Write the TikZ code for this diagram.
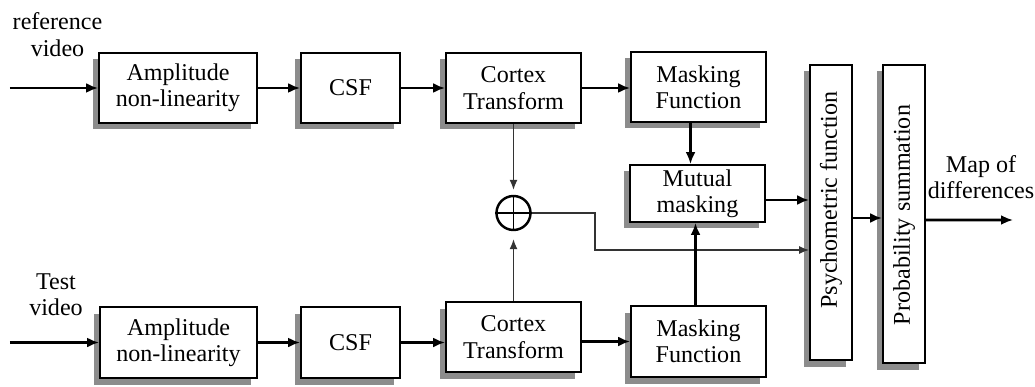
\documentclass[tikz,border=0pt]{standalone}
\usepackage{fontspec}
\setmainfont{Liberation Serif}
\usetikzlibrary{shadows,arrows.meta}
\begin{document}
\begin{tikzpicture}[
	box/.style={draw, line width=1.1pt, fill=white, align=center, inner sep=0pt,
		drop shadow={shadow xshift=-0.13cm, shadow yshift=-0.13cm, fill=black!45, opacity=1}},
	flow/.style={-{Latex[length=0.24cm,width=0.2cm]}, line width=1.5pt},
	link/.style={-{Latex[length=0.2cm,width=0.16cm]}, line width=0.7pt, black!80},
	font=\fontsize{13.7}{15}\selectfont]
	  \useasboundingbox (0,0) rectangle (20.7,-7.74);

	  \node[align=center] (reflabel) at (1.15,-0.69) {reference\\video};
	  \node[align=center] (testlabel) at (1.12,-5.9) {Test\\video};
	  \node[align=center] (maplabel) at (19.62,-3.54) {Map of\\differences};

	  \coordinate (inA) at (0.2,-1.76);
	  \coordinate (inB) at (0.2,-6.85);
	  \coordinate (out) at (20.26,-4.40);
	  \coordinate (turn) at (11.9,-5.0);

	  % reference branch
	  \node[box, minimum width=3.16cm, minimum height=1.4cm] (amp1) at (3.56,-1.76) {Amplitude\\non-linearity};
	  \node[box, minimum width=1.98cm, minimum height=1.4cm] (csf1) at (7.01,-1.76) {CSF};
	  \node[box, minimum width=2.7cm, minimum height=1.4cm] (cortex1) at (10.27,-1.76) {Cortex\\Transform};
	  \node[box, minimum width=2.7cm, minimum height=1.4cm] (mask1) at (13.97,-1.74) {Masking\\Function};

	  % test branch
	  \node[box, minimum width=3.14cm, minimum height=1.42cm] (amp2) at (3.57,-6.85) {Amplitude\\non-linearity};
	  \node[box, minimum width=1.98cm, minimum height=1.42cm] (csf2) at (7.01,-6.85) {CSF};
	  \node[box, minimum width=2.7cm, minimum height=1.4cm] (cortex2) at (10.27,-6.74) {Cortex\\Transform};
	  \node[box, minimum width=2.7cm, minimum height=1.42cm] (mask2) at (13.97,-6.83) {Masking\\Function};

	  \node[box, minimum width=2.7cm, minimum height=1.14cm] (mutual) at (13.95,-3.87) {Mutual\\masking};
	  \node[circle, draw, line width=1.4pt, minimum size=0.68cm, inner sep=0pt] (plus) at (10.27,-4.26) {};
	  \draw[line width=1pt] (plus.north) -- (plus.south) (plus.west) -- (plus.east);

	  \node[box, minimum width=0.84cm, minimum height=5.9cm] (psy) at (16.62,-4.25) {};
	  \node[rotate=90] (psytext) at (16.62,-4.0) {Psychometric function};
	  \node[box, minimum width=0.84cm, minimum height=5.96cm] (prob) at (18.08,-4.28) {};
	  \node[rotate=90] (probtext) at (18.08,-4.3) {Probability summation};

	  \draw[flow] (inA) -- (amp1);
	  \draw[flow] (amp1) -- (csf1);
	  \draw[flow] (csf1) -- (cortex1);
	  \draw[flow] (cortex1) -- (mask1.west |- cortex1);

	  \draw[flow] (inB) -- (amp2);
	  \draw[flow] (amp2) -- (csf2);
	  \draw[flow] (csf2.east) -- (csf2.east -| cortex2.west);
	  \draw[flow] (cortex2.east |- mask2) -- (mask2.west);

	  \draw[link] (cortex1.south) -- ([yshift=0.1cm]plus.north);
	  \draw[link] (cortex2.north) -- ([yshift=-0.16cm]plus.south);
	  \draw[link] (plus.east) -| (turn) -- (turn -| psy.west);

	  \draw[flow] ([xshift=-0.16cm]mask1.south) -- ([xshift=-0.16cm]mask1.south |- mutual.north);
	  \draw[flow] ([xshift=-0.06cm]mask2.north) -- ([xshift=-0.06cm]mask2.north |- mutual.south);
	  \draw[flow] ([yshift=-0.13cm]mutual.east) -- ([yshift=-0.13cm]mutual.east -| psy.west);
	  \draw[flow] ([yshift=-0.11cm]psy.east) -- ([yshift=-0.11cm]psy.east -| prob.west);
	  \draw[flow] ([yshift=-0.12cm]prob.east) -- (out);

	\end{tikzpicture}
\end{document}
